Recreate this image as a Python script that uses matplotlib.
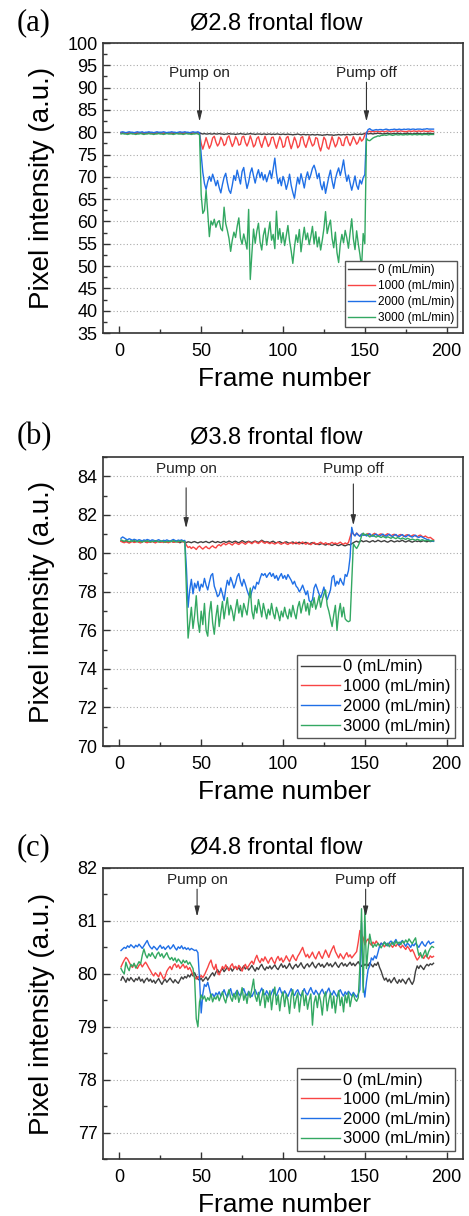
import numpy as np
import matplotlib
matplotlib.use("Agg")
import matplotlib.pyplot as plt
from matplotlib.ticker import MultipleLocator

plt.rcParams['font.family'] = ['Liberation Sans', 'DejaVu Sans']

labels = ["0 (mL/min)", "1000 (mL/min)", "2000 (mL/min)", "3000 (mL/min)"]
colors = ["#404040", "#f84444", "#1f6fe6", "#33a862"]

# ---- panel (a): 2.8 mm, frames 1..192 ----
a_0 = [79.8,79.9,79.8,79.8,79.7,79.8,79.9,79.8,79.8,79.7,
       79.8,79.8,79.9,79.8,79.7,79.8,79.8,79.9,79.8,79.8,
       79.7,79.8,79.8,79.9,79.8,79.8,79.7,79.8,79.9,79.8,
       79.8,79.8,79.7,79.8,79.9,79.8,79.8,79.8,79.7,79.8,
       79.9,79.8,79.8,79.7,79.8,79.8,79.9,79.8,79.8,
       79.7,79.6,79.7,79.6,79.6,79.7,79.6,79.6,79.7,79.6,
       79.6,79.7,79.6,79.6,79.5,79.6,79.6,79.7,79.6,79.6,
       79.6,79.5,79.6,79.6,79.7,79.6,79.6,79.5,79.6,79.6,
       79.7,79.6,79.6,79.5,79.6,79.6,79.6,79.5,79.6,79.6,
       79.5,79.6,79.6,79.5,79.6,79.5,79.6,79.6,79.5,79.5,
       79.6,79.5,79.5,79.6,79.5,79.5,79.4,79.5,79.5,79.6,
       79.5,79.4,79.5,79.5,79.4,79.5,79.4,79.4,79.5,79.4,
       79.4,79.5,79.4,79.4,79.3,79.4,79.4,79.5,79.4,79.4,
       79.4,79.3,79.4,79.4,79.5,79.4,79.4,79.5,79.4,79.5,
       79.5,79.4,79.5,79.5,79.6,79.5,79.5,79.6,79.5,79.6,79.7,
       79.8,79.6,79.7,79.7,79.6,79.7,79.7,79.8,79.7,79.7,
       79.6,79.7,79.7,79.8,79.7,79.6,79.7,79.7,79.7,79.8,
       79.7,79.7,79.6,79.7,79.7,79.8,79.7,79.7,79.6,79.7,
       79.7,79.8,79.7,79.7,79.6,79.7,79.7,79.7,79.8,79.7,79.7,79.7]
a_1000 = [79.9,79.8,79.9,79.8,79.8,79.9,79.8,79.9,79.8,79.8,
          79.9,79.8,79.8,79.9,79.8,79.8,79.9,79.8,79.9,79.8,
          79.8,79.9,79.8,79.8,79.9,79.8,79.8,79.9,79.8,79.9,
          79.8,79.8,79.9,79.8,79.8,79.9,79.8,79.9,79.8,79.8,
          79.9,79.8,79.8,79.9,79.8,79.8,79.9,79.8,79.6,
          77.5,76.2,77.4,78.8,77.6,76.4,77.2,78.7,79.1,77.8,
          76.9,77.5,78.9,78.2,77.0,77.4,78.8,79.2,77.9,76.8,
          77.6,79.0,78.4,77.1,77.3,78.9,79.1,77.7,76.9,77.8,
          79.2,78.1,76.7,77.2,78.6,79.0,77.6,76.6,77.9,79.1,
          78.0,76.8,77.4,78.8,78.9,77.5,76.4,77.7,79.0,78.2,
          76.6,76.9,78.7,79.1,77.6,76.3,77.5,78.9,78.0,76.5,
          77.0,78.8,79.0,77.4,76.6,77.8,79.1,77.9,76.9,77.3,
          78.8,78.6,76.9,75.8,77.2,78.9,78.3,76.6,76.2,77.6,
          79.0,77.8,76.7,77.4,78.9,78.5,77.1,77.0,78.6,79.1,
          77.8,77.0,77.9,79.0,78.2,77.3,77.8,78.9,78.0,78.4,79.4,
          80.0,80.1,80.2,80.1,80.2,80.1,80.2,80.2,80.1,80.2,
          80.2,80.1,80.2,80.3,80.2,80.1,80.2,80.2,80.3,80.2,
          80.2,80.3,80.2,80.2,80.1,80.2,80.3,80.2,80.2,80.3,
          80.2,80.2,80.3,80.2,80.2,80.3,80.2,80.2,80.2,80.3,80.2,80.2]
a_2000 = [80.0,80.1,80.0,79.9,80.0,80.1,80.0,80.0,79.9,80.0,
          80.1,80.0,80.0,80.1,79.9,80.0,80.0,80.1,80.0,80.0,
          79.9,80.0,80.1,80.0,80.0,80.0,80.1,80.0,79.9,80.0,
          80.0,80.1,80.0,80.0,79.9,80.0,80.1,80.0,80.0,80.1,
          80.0,80.0,79.9,80.0,80.1,80.0,80.0,80.1,79.9,
          75.0,71.0,68.5,67.2,68.9,70.1,69.0,70.6,69.4,68.0,
          69.2,67.6,66.4,68.3,69.9,70.8,68.7,67.0,66.3,68.1,
          70.3,69.2,71.5,70.0,68.4,71.2,72.1,69.5,67.4,68.8,
          70.9,72.0,70.2,68.6,70.4,71.6,69.8,71.0,69.3,70.5,
          68.9,70.2,71.4,69.6,71.8,74.2,70.8,68.5,69.7,68.0,
          70.1,69.0,67.2,68.6,70.6,68.1,66.5,65.2,67.8,69.9,
          68.4,70.7,69.2,67.5,69.8,71.1,69.4,70.5,71.9,72.6,
          71.4,69.6,70.8,68.3,67.1,68.9,66.3,68.2,70.0,71.5,
          69.1,67.4,69.5,70.9,72.0,70.3,71.8,73.8,71.0,69.0,
          70.4,68.6,67.0,68.5,70.2,68.1,67.2,69.3,68.4,69.8,70.5,
          79.8,80.6,80.8,80.5,80.4,80.5,80.6,80.5,80.6,80.6,
          80.5,80.6,80.7,80.6,80.5,80.6,80.6,80.7,80.6,80.6,
          80.7,80.6,80.6,80.7,80.6,80.7,80.7,80.6,80.7,80.7,
          80.6,80.7,80.7,80.7,80.6,80.7,80.7,80.8,80.7,80.7,80.7,80.7]
a_3000 = [79.6,79.7,79.6,79.6,79.5,79.6,79.7,79.6,79.6,79.5,
          79.6,79.6,79.7,79.6,79.5,79.6,79.6,79.7,79.6,79.6,
          79.5,79.6,79.6,79.7,79.6,79.6,79.5,79.6,79.7,79.6,
          79.6,79.6,79.5,79.6,79.7,79.6,79.6,79.6,79.5,79.6,
          79.7,79.6,79.6,79.5,79.6,79.6,79.7,79.6,79.4,
          66.0,61.8,62.5,67.0,62.0,56.6,60.1,59.2,60.5,58.7,
          59.8,60.2,58.4,57.9,63.2,59.5,58.0,56.2,53.3,55.8,
          57.6,56.4,58.9,60.8,56.3,54.9,57.2,55.6,53.8,62.7,
          47.0,52.9,58.3,55.1,57.8,59.6,55.4,53.6,56.9,58.5,
          54.7,57.3,59.9,55.8,57.1,53.9,62.3,56.0,58.4,55.2,
          57.5,54.6,56.8,59.1,55.7,53.4,50.6,54.2,57.0,55.3,
          58.2,53.2,56.1,58.7,55.9,57.4,54.8,56.6,58.9,55.0,
          57.7,54.3,56.5,53.6,55.8,58.4,62.2,57.3,59.0,60.3,
          56.2,54.1,57.6,53.0,50.8,54.9,57.1,55.2,58.0,56.3,
          54.0,57.5,60.6,56.1,53.7,57.9,55.0,52.6,49.6,57.3,55.0,
          78.6,78.2,78.1,78.4,78.7,78.9,79.0,79.2,79.1,79.3,
          79.3,79.4,79.3,79.4,79.5,79.4,79.3,79.4,79.5,79.4,
          79.4,79.5,79.4,79.4,79.5,79.4,79.5,79.5,79.4,79.5,
          79.5,79.4,79.5,79.5,79.4,79.5,79.5,79.5,79.4,79.5,79.5,79.5]

# ---- panel (b): 3.8 mm ----
b_0 = [80.65,80.62,80.60,80.63,80.61,80.58,80.62,80.64,80.60,80.61,
       80.63,80.59,80.62,80.60,80.64,80.61,80.58,80.62,80.60,80.63,
       80.61,80.59,80.63,80.62,80.58,80.61,80.64,80.60,80.59,80.62,
       80.60,80.63,80.58,80.61,80.62,80.59,80.55,80.60,80.62,80.58,
       80.56,80.60,80.58,80.55,80.59,80.61,80.57,80.54,80.58,80.60,
       80.56,80.59,80.62,80.57,80.55,80.60,80.63,80.58,80.56,80.61,
       80.58,80.55,80.60,80.62,80.57,80.59,80.64,80.60,80.56,80.61,
       80.63,80.58,80.55,80.60,80.66,80.62,80.57,80.60,80.63,80.59,
       80.56,80.61,80.64,80.60,80.57,80.62,80.68,80.63,80.58,80.61,
       80.59,80.55,80.60,80.63,80.57,80.54,80.58,80.61,80.56,80.52,
       80.57,80.60,80.55,80.52,80.56,80.59,80.54,80.50,80.55,80.58,
       80.53,80.50,80.55,80.57,80.52,80.48,80.53,80.56,80.51,80.47,
       80.50,80.45,80.48,80.52,80.46,80.43,80.47,80.50,80.44,80.41,
       80.45,80.48,80.42,80.40,80.44,80.47,80.41,80.39,80.43,80.46,
       80.44,80.50,80.55,80.60,80.63,80.58,80.62,80.66,80.60,80.63,
       80.65,80.61,80.58,80.63,80.66,80.60,80.62,80.68,80.64,80.60,
       80.63,80.66,80.61,80.58,80.62,80.67,80.63,80.59,80.62,80.65,
       80.61,80.64,80.68,80.62,80.59,80.63,80.66,80.61,80.58,80.62,
       80.65,80.61,80.64,80.60,80.63,80.66,80.62,80.60,80.64,80.61,
       80.63,80.65]
b_1000 = [80.62,80.58,80.55,80.60,80.57,80.53,80.58,80.61,80.56,80.59,
          80.62,80.57,80.54,80.59,80.63,80.58,80.55,80.60,80.57,80.61,
          80.58,80.54,80.59,80.62,80.57,80.60,80.56,80.61,80.58,80.55,
          80.60,80.63,80.57,80.59,80.62,80.58,80.61,80.64,80.59,80.60,
          80.42,80.30,80.35,80.25,80.33,80.28,80.20,80.32,80.38,80.29,
          80.22,80.30,80.36,80.27,80.24,80.33,80.39,80.31,80.28,80.40,
          80.45,80.38,80.47,80.52,80.44,80.49,80.55,80.48,80.43,80.51,
          80.56,80.50,80.46,80.53,80.58,80.52,80.47,80.54,80.60,80.55,
          80.50,80.57,80.62,80.55,80.51,80.58,80.64,80.56,80.52,80.59,
          80.54,80.50,80.56,80.52,80.48,80.54,80.58,80.51,80.47,80.53,
          80.57,80.50,80.46,80.52,80.56,80.49,80.53,80.58,80.51,80.48,
          80.54,80.59,80.52,80.47,80.55,80.50,80.45,80.52,80.57,80.50,
          80.46,80.53,80.58,80.51,80.48,80.55,80.50,80.45,80.52,80.57,
          80.50,80.54,80.48,80.53,80.58,80.51,80.47,80.54,80.49,80.56,
          80.85,81.10,81.00,80.92,81.05,80.96,80.90,80.98,81.02,80.94,
          80.97,81.03,80.95,80.91,80.99,81.04,80.96,80.92,80.98,81.01,
          80.94,80.90,80.97,81.02,80.95,80.91,80.96,80.99,80.93,80.89,
          80.95,80.98,80.92,80.88,80.94,80.97,80.91,80.87,80.93,80.96,
          80.90,80.86,80.92,80.95,80.88,80.85,80.90,80.84,80.80,80.83,
          80.76,80.70]
b_2000 = [80.78,80.85,80.80,80.74,80.70,80.76,80.72,80.68,80.73,80.70,
          80.66,80.71,80.68,80.64,80.70,80.67,80.72,80.69,80.65,80.70,
          80.68,80.63,80.67,80.71,80.66,80.62,80.68,80.65,80.70,80.66,
          80.63,80.68,80.72,80.67,80.64,80.69,80.66,80.70,80.65,80.67,
          79.20,77.20,78.10,78.65,77.90,78.45,78.20,78.55,78.05,78.40,
          78.25,78.70,78.35,78.10,78.50,78.85,78.95,78.30,78.05,77.75,
          77.85,78.20,77.90,77.55,78.15,78.60,78.35,78.75,78.50,78.20,
          78.45,78.80,78.95,78.55,78.30,78.65,78.40,78.10,77.85,77.70,
          78.05,78.30,78.15,78.50,78.40,78.70,78.95,78.85,78.95,78.75,
          78.90,79.00,78.80,78.95,78.70,78.85,78.60,78.80,78.95,78.70,
          78.85,78.65,78.90,78.75,78.60,78.40,78.55,78.30,78.20,78.00,
          78.15,78.35,78.10,77.85,78.05,77.55,77.45,77.60,78.20,78.40,
          78.15,77.90,77.70,77.95,78.25,77.80,77.60,77.85,78.10,78.75,
          78.85,78.30,78.55,78.40,78.70,78.50,78.35,78.90,78.80,79.10,
          79.80,81.35,81.00,80.90,81.05,80.95,80.88,81.00,80.93,80.97,
          80.90,80.95,81.02,80.93,80.88,80.96,81.00,80.92,80.89,80.95,
          81.00,80.93,80.88,80.95,80.99,80.91,80.87,80.94,80.98,80.90,
          80.86,80.93,80.97,80.89,80.85,80.92,80.96,80.88,80.84,80.90,
          80.94,80.86,80.82,80.88,80.85,80.80,80.76,80.72,80.70,80.66,
          80.64,80.62]
b_3000 = [80.70,80.66,80.62,80.68,80.64,80.60,80.65,80.62,80.67,80.63,
          80.60,80.65,80.62,80.58,80.64,80.61,80.66,80.62,80.59,80.63,
          80.60,80.66,80.63,80.59,80.62,80.65,80.61,80.58,80.63,80.60,
          80.64,80.61,80.66,80.62,80.59,80.64,80.61,80.65,80.62,80.60,
          78.00,75.60,76.40,77.20,76.10,76.80,77.80,76.50,75.90,77.00,
          76.30,77.40,76.00,75.70,76.90,77.50,76.40,75.80,76.70,77.30,
          76.20,76.90,77.50,76.60,77.20,77.70,76.80,77.30,77.00,76.50,
          77.10,77.60,76.90,77.30,76.70,77.40,77.10,76.80,77.50,78.20,
          77.00,76.60,77.30,76.90,77.60,77.20,76.70,77.40,77.00,76.60,
          77.10,76.80,77.40,76.90,76.60,77.20,76.90,76.50,77.00,76.70,
          77.20,76.80,76.60,77.10,76.70,77.30,76.90,76.60,77.20,77.50,
          76.90,77.30,77.60,77.00,77.40,76.80,77.50,77.20,77.70,77.10,
          77.40,77.80,77.20,77.60,77.90,78.10,77.30,77.00,76.60,76.20,
          76.80,77.30,76.00,76.90,77.40,76.70,77.20,76.60,76.50,76.45,
          76.50,78.50,80.50,80.35,80.25,80.40,80.60,80.90,81.05,80.95,
          81.00,80.92,80.85,80.90,80.95,80.88,80.84,80.90,80.86,80.82,
          80.88,80.84,80.80,80.86,80.82,80.78,80.84,80.80,80.76,80.82,
          80.78,80.74,80.80,80.76,80.72,80.78,80.75,80.70,80.74,80.71,
          80.68,80.73,80.70,80.66,80.71,80.68,80.64,80.69,80.66,80.63,
          80.67,80.65]

# ---- panel (c): 4.8 mm ----
c_0 = [79.88,79.95,79.90,79.84,79.92,79.87,79.93,79.89,79.85,79.91,
       79.88,79.94,79.86,79.90,79.83,79.89,79.92,79.86,79.90,79.84,
       79.88,79.82,79.87,79.91,79.85,79.80,79.86,79.90,79.84,79.88,
       79.92,79.87,79.83,79.89,79.85,79.82,79.88,79.94,79.90,79.95,
       79.92,79.98,79.94,80.00,79.96,80.02,79.95,79.90,79.88,79.92,
       79.86,79.90,79.94,79.88,79.93,79.98,80.02,79.96,80.03,80.08,
       80.02,80.06,80.10,80.04,80.08,80.13,80.07,80.11,80.05,80.10,
       80.14,80.08,80.12,80.06,80.10,80.15,80.09,80.13,80.07,80.11,
       80.16,80.10,80.05,80.12,80.08,80.14,80.18,80.11,80.07,80.13,
       80.10,80.15,80.09,80.13,80.17,80.11,80.08,80.14,80.19,80.12,
       80.16,80.10,80.14,80.20,80.13,80.09,80.15,80.18,80.12,80.16,
       80.21,80.14,80.10,80.16,80.19,80.13,80.17,80.22,80.15,80.11,
       80.17,80.20,80.14,80.18,80.12,80.16,80.21,80.15,80.19,80.13,
       80.17,80.22,80.16,80.12,80.18,80.21,80.15,80.19,80.14,80.18,
       80.22,80.16,80.20,80.15,80.19,80.23,80.17,80.14,80.20,80.16,
       80.19,80.15,80.21,80.17,80.13,80.19,80.16,80.22,80.12,80.05,
       79.95,79.88,79.92,79.85,79.90,79.83,79.88,79.93,79.86,79.82,
       79.89,79.84,79.90,79.86,79.81,79.88,79.92,79.85,79.80,79.87,
       80.05,80.15,80.10,80.16,80.12,80.08,80.14,80.18,80.15,80.19,
       80.17,80.20]
c_1000 = [80.13,80.20,80.26,80.31,80.28,80.22,80.16,80.12,80.18,80.14,
          80.10,80.16,80.19,80.13,80.18,80.22,80.17,80.11,80.06,80.00,
          79.96,80.02,79.98,79.94,80.03,79.97,79.90,79.95,80.05,80.10,
          80.14,80.08,80.16,80.19,80.12,80.17,80.10,80.14,80.18,80.11,
          80.15,80.08,80.12,80.05,79.98,79.94,79.90,79.95,79.92,79.97,
          79.93,79.98,80.05,80.12,80.20,80.26,80.14,80.08,80.18,80.02,
          79.98,80.06,80.14,80.09,80.17,80.11,80.06,80.15,80.19,80.10,
          80.14,80.08,80.16,80.12,80.05,80.13,80.18,80.10,80.15,80.20,
          80.24,80.18,80.28,80.35,80.26,80.21,80.29,80.24,80.32,80.26,
          80.20,80.27,80.31,80.24,80.19,80.28,80.33,80.25,80.30,80.22,
          80.27,80.34,80.28,80.23,80.30,80.36,80.29,80.25,80.33,80.38,
          80.44,80.50,80.40,80.32,80.37,80.30,80.35,80.41,80.33,80.28,
          80.36,80.42,80.34,80.29,80.37,80.45,80.38,80.31,80.40,80.47,
          80.53,80.42,80.36,80.30,80.38,80.33,80.28,80.35,80.40,80.32,
          80.36,80.30,80.34,80.38,80.42,80.60,80.82,80.75,80.68,80.55,
          80.62,80.66,80.58,80.54,80.60,80.56,80.62,80.57,80.53,80.58,
          80.55,80.51,80.56,80.53,80.58,80.54,80.50,80.55,80.52,80.57,
          80.53,80.49,80.54,80.50,80.46,80.52,80.48,80.42,80.46,80.40,
          80.32,80.26,80.30,80.36,80.33,80.29,80.35,80.32,80.28,80.34,
          80.31,80.33]
c_2000 = [80.44,80.47,80.50,80.48,80.53,80.50,80.55,80.52,80.49,80.54,
          80.51,80.56,80.52,80.48,80.53,80.58,80.63,80.55,80.50,80.47,
          80.52,80.49,80.45,80.50,80.54,80.48,80.51,80.46,80.50,80.53,
          80.47,80.50,80.55,80.49,80.45,80.51,80.48,80.53,80.47,80.50,
          80.46,80.49,80.45,80.48,80.46,80.44,80.45,80.40,79.90,79.26,
          79.62,79.80,79.76,79.84,79.72,79.58,79.62,79.56,79.64,79.60,
          79.66,79.58,79.63,79.70,79.61,79.56,79.65,79.72,79.60,79.57,
          79.64,79.69,79.62,79.58,79.66,79.72,79.63,79.59,79.67,79.61,
          79.57,79.64,79.70,79.62,79.58,79.66,79.73,79.64,79.60,79.68,
          79.62,79.56,79.64,79.71,79.63,79.59,79.67,79.74,79.65,79.60,
          79.68,79.62,79.57,79.65,79.72,79.63,79.59,79.66,79.70,79.62,
          79.58,79.65,79.72,79.64,79.60,79.68,79.74,79.66,79.61,79.69,
          79.64,79.58,79.66,79.71,79.63,79.59,79.67,79.73,79.64,79.60,
          79.68,79.62,79.57,79.65,79.70,79.63,79.58,79.66,79.61,79.67,
          79.63,79.58,79.65,79.60,79.56,79.62,79.70,80.97,79.78,79.56,
          79.85,80.08,80.15,80.30,80.26,80.34,80.29,80.40,80.52,80.58,
          80.55,80.60,80.57,80.53,80.59,80.62,80.56,80.60,80.65,80.58,
          80.54,80.60,80.63,80.57,80.52,80.58,80.55,80.50,80.56,80.53,
          80.58,80.54,80.50,80.56,80.61,80.55,80.52,80.58,80.62,80.56,
          80.59,80.60]
c_3000 = [80.10,80.04,80.00,80.22,80.12,80.06,80.18,80.14,80.20,80.11,
          80.17,80.23,80.19,80.35,80.47,80.36,80.30,80.38,80.33,80.40,
          80.34,80.29,80.37,80.41,80.33,80.38,80.30,80.35,80.40,80.32,
          80.27,80.31,80.25,80.30,80.22,80.28,80.24,80.19,80.26,80.21,
          80.25,80.18,80.22,80.16,80.10,79.90,79.15,79.00,79.47,79.60,
          79.52,79.58,79.48,79.55,79.50,79.62,79.47,79.56,79.52,79.60,
          79.49,79.57,79.66,79.53,79.45,79.60,79.70,79.55,79.48,79.63,
          79.52,79.68,79.46,79.58,79.74,79.50,79.62,79.44,79.66,79.55,
          79.72,79.90,79.58,79.48,79.65,79.40,79.55,79.70,79.36,79.60,
          79.47,79.68,79.32,79.58,79.75,79.42,79.60,79.30,79.55,79.66,
          79.38,79.62,79.50,79.25,79.58,79.70,79.35,79.52,79.64,79.28,
          79.55,79.68,79.40,79.60,79.33,79.50,79.62,79.03,79.45,79.58,
          79.36,79.62,79.48,79.22,79.55,79.66,79.30,79.50,79.64,79.35,
          79.58,79.26,79.52,79.68,79.40,79.56,79.28,79.60,79.45,79.65,
          79.38,79.55,79.62,79.52,79.48,79.55,80.16,81.23,79.65,81.20,
          80.10,80.47,80.75,80.58,80.50,80.56,80.52,80.58,80.54,80.49,
          80.55,80.60,80.53,80.58,80.51,80.56,80.60,80.54,80.62,80.57,
          80.60,80.55,80.62,80.58,80.64,80.59,80.66,80.61,80.57,80.63,
          80.68,80.50,80.35,80.40,80.30,80.38,80.45,80.32,80.42,80.48,
          80.52,80.50]

panels = [
    dict(tag="(a)", title="\u00d82.8 frontal flow", series=[a_0, a_1000, a_2000, a_3000],
         ylim=(35, 100), major=5, minor=2.5, on=(49, 82.4, 91.2, 92.4), off=(151, 82.4, 91.2, 92.4),
         legsize=8.5, legspace=0.34),
    dict(tag="(b)", title="\u00d83.8 frontal flow", series=[b_0, b_1000, b_2000, b_3000],
         ylim=(70, 85), major=2, minor=1, on=(40.8, 81.3, 83.4, 84.15), off=(143, 81.45, 83.6, 84.15),
         legsize=12, legspace=0.28),
    dict(tag="(c)", title="\u00d84.8 frontal flow", series=[c_0, c_1000, c_2000, c_3000],
         ylim=(76.5, 82), major=1, minor=0.5, on=(47.5, 81.08, 81.6, 81.69), off=(150.5, 81.08, 81.6, 81.69),
         legsize=12, legspace=0.28),
]

# axes boxes in pixels (top, bottom) of a 469x1216 figure
boxes = [(43, 333), (457, 746), (868, 1159)]
W, H = 469, 1216
L, R = 103, 463

fig = plt.figure(figsize=(W / 100, H / 100), dpi=100)

for p, (top, bot) in zip(panels, boxes):
    ax = fig.add_axes([L / W, 1 - bot / H, (R - L) / W, (bot - top) / H])
    for ys, lab, col in zip(p["series"], labels, colors):
        xs = np.arange(1, len(ys) + 1)
        ax.plot(xs, ys, color=col, lw=1.0, label=lab)
    ax.set_xlim(-10, 210)
    ax.set_ylim(*p["ylim"])
    ax.xaxis.set_major_locator(MultipleLocator(50))
    ax.xaxis.set_minor_locator(MultipleLocator(25))
    ax.yaxis.set_major_locator(MultipleLocator(p["major"]))
    ax.yaxis.set_minor_locator(MultipleLocator(p["minor"]))
    ax.tick_params(which="both", direction="in", color="#333333", width=1, labelsize=13)
    ax.tick_params(which="major", length=5)
    ax.tick_params(which="minor", length=3)
    ax.tick_params(axis="x", pad=7)
    ax.tick_params(axis="y", pad=4)
    ax.yaxis.grid(True, ls=(0, (1, 2)), color="#aaaaaa", lw=0.8)
    for s in ax.spines.values():
        s.set_color("#333333")
        s.set_linewidth(1.2)

    for (xa, tip, start, ty), txt in ((p["on"], "Pump on"), (p["off"], "Pump off")):
        ax.annotate("", xy=(xa, tip), xytext=(xa, start),
                    arrowprops=dict(arrowstyle="-|>,head_length=0.6,head_width=0.15",
                                    color="#333333", lw=0.8, shrinkA=0, shrinkB=0))
        ax.text(xa, ty, txt, ha="center", va="baseline", fontsize=11, color="#222222")

    leg = ax.legend(loc="lower right", fontsize=p["legsize"], frameon=True, fancybox=False,
                    edgecolor="#555555", framealpha=1, borderpad=0.25, borderaxespad=0.5,
                    handlelength=2.3, handletextpad=0.2, labelspacing=p["legspace"])
    leg.get_frame().set_linewidth(1.0)

    mid = 1 - (top + bot) / 2 / H
    fig.text(42 / W, mid, "Pixel intensity (a.u.)", rotation=90, ha="center", va="center",
             fontsize=20)
    fig.text(284 / W, 1 - (bot + 46) / H, "Frame number", ha="center", va="center", fontsize=19)
    fig.text(276 / W, 1 - (top - 20) / H, p["title"], ha="center", va="center", fontsize=17)
    fig.text(34 / W, 1 - (top - 20) / H, p["tag"], ha="center", va="center", fontsize=22,
             family=["Liberation Serif", "DejaVu Serif"])

fig.savefig("out.png", dpi=100)
